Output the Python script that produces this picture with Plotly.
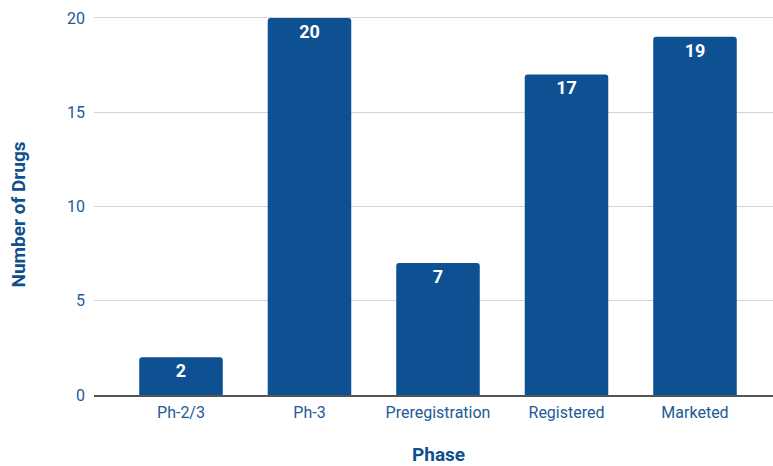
import plotly.graph_objects as go

# Drug counts by development phase
phases = ["Ph-2/3", "Ph-3", "Preregistration", "Registered", "Marketed"]
drug_counts = [2, 20, 7, 17, 19]
y_ticks = [0, 5, 10, 15, 20]

BAR_BLUE = "#0d5193"
TICK_BLUE = "#1d5a98"
TITLE_BLUE = "#0e4f8e"

fig = go.Figure(
    go.Bar(
        x=phases,
        y=drug_counts,
        marker=dict(color=BAR_BLUE, line=dict(width=0)),
        width=0.65,
        text=[str(v) for v in drug_counts],
        textposition="inside",
        insidetextanchor="end",
        textangle=0,
        textfont=dict(family="Roboto", size=18, color="white", weight="bold"),
        hoverinfo="x+y",
    )
)

fig.update_layout(
    width=773,
    height=466,
    margin=dict(l=94, r=0, t=10, b=71),
    paper_bgcolor="white",
    plot_bgcolor="white",
    barcornerradius=3,
    showlegend=False,
    font=dict(family="Roboto", color=TICK_BLUE),
    xaxis=dict(
        range=[-0.677, 4.607],
        showgrid=False,
        showline=True,
        linecolor="#555555",
        linewidth=1.5,
        ticks="",
        tickfont=dict(size=16, color=TICK_BLUE),
        ticklabelstandoff=2,
    ),
    yaxis=dict(
        range=[0, 20.42],
        tickvals=y_ticks,
        showgrid=True,
        gridcolor="#d3d3d3",
        gridwidth=1,
        zeroline=False,
        showline=False,
        ticks="",
        tickfont=dict(size=16, color=TICK_BLUE),
        ticklabelstandoff=8,
    ),
    annotations=[
        dict(
            text="<b>Phase</b>",
            xref="x", yref="paper",
            x=2, y=-0.155,
            xanchor="center", yanchor="middle",
            showarrow=False,
            font=dict(family="Roboto", size=19, color=TITLE_BLUE),
        ),
        dict(
            text="<b>Number of Drugs</b>",
            xref="paper", yref="paper",
            x=-0.111, y=0.468,
            xanchor="center", yanchor="middle",
            textangle=-90,
            showarrow=False,
            font=dict(family="Roboto", size=19, color=TITLE_BLUE),
        ),
    ],
)

fig.write_html("out.html")
